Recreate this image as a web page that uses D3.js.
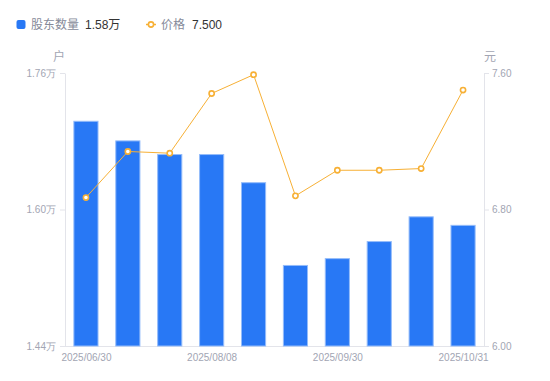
<!DOCTYPE html>
<html>
<head>
<meta charset="utf-8">
<script src="https://cdn.jsdelivr.net/npm/d3@7"></script>
<style>
  body { margin: 0; background: #fff; }
  svg { font-family: "Liberation Sans", Arial, "Noto Sans CJK SC", sans-serif; }
</style>
</head>
<body>
<svg id="chart"></svg>
<script>
// Chart data
const dates = ["2025/06/30", "2025/07/10", "2025/07/18", "2025/08/08", "2025/08/20",
  "2025/09/10", "2025/09/30", "2025/10/10", "2025/10/20", "2025/10/31"];
const holders = [17040, 16810, 16650, 16650, 16320, 15350, 15430, 15630, 15920, 15820];
const prices = [6.87, 7.14, 7.13, 7.48, 7.59, 6.88, 7.03, 7.03, 7.04, 7.50];
const xTickLabels = ["2025/06/30", "2025/08/08", "2025/09/30", "2025/10/31"];
const holderTicks = [14400, 16000, 17600];
const priceTicks = [6.0, 6.8, 7.6];

const width = 550;
const height = 381;
const margin = { top: 73, right: 66, bottom: 35, left: 65 };

const barColor = "#2878f5";
const lineColor = "#f7b035";
const axisColor = "#e3e4ea";
const labelColor = "#a2a5b3";

const svg = d3.select("#chart")
  .attr("width", width)
  .attr("height", height);

// Scales
const x = d3.scaleBand()
  .domain(dates)
  .range([margin.left, width - margin.right])
  .paddingInner(0.4)
  .paddingOuter(0.2);

const xPoint = d3.scalePoint()
  .domain(dates)
  .range([margin.left, width - margin.right])
  .padding(0.5);

const yLeft = d3.scaleLinear()
  .domain([14400, 17600])
  .range([height - margin.bottom, margin.top]);

const yRight = d3.scaleLinear()
  .domain([6.0, 7.6])
  .range([height - margin.bottom, margin.top]);

// Axes
function styleAxis(g) {
  g.select(".domain").attr("stroke", axisColor);
  g.selectAll(".tick line").attr("stroke", axisColor);
  g.selectAll(".tick text").attr("fill", labelColor).attr("font-size", 10);
}

svg.append("g")
  .attr("transform", `translate(${margin.left},0)`)
  .call(d3.axisLeft(yLeft)
    .tickValues(holderTicks)
    .tickSize(5)
    .tickSizeOuter(0)
    .tickPadding(4)
    .tickFormat(d => (d / 10000).toFixed(2) + "万"))
  .call(styleAxis);

svg.append("g")
  .attr("transform", `translate(${width - margin.right},0)`)
  .call(d3.axisRight(yRight)
    .tickValues(priceTicks)
    .tickSize(5)
    .tickSizeOuter(0)
    .tickPadding(3)
    .tickFormat(d3.format(".2f")))
  .call(styleAxis);

svg.append("g")
  .attr("transform", `translate(0,${height - margin.bottom})`)
  .call(d3.axisBottom(xPoint)
    .tickValues(xTickLabels)
    .tickSize(0)
    .tickPadding(8))
  .call(styleAxis)
  .call(g => g.select(".domain").attr("d", `M${margin.left},0.5H${width - margin.right}`));

// Unit labels
svg.append("text")
  .attr("x", 59)
  .attr("y", 61)
  .attr("text-anchor", "middle")
  .attr("fill", labelColor)
  .attr("font-size", 12)
  .text("户");

svg.append("text")
  .attr("x", 490)
  .attr("y", 61)
  .attr("text-anchor", "middle")
  .attr("fill", labelColor)
  .attr("font-size", 12)
  .text("元");

// Bars
svg.selectAll(".bar")
  .data(holders)
  .enter()
  .append("rect")
  .attr("class", "bar")
  .attr("x", (d, i) => x(dates[i]) + 0.5)
  .attr("width", x.bandwidth() - 1)
  .attr("y", d => yLeft(d) + 0.5)
  .attr("height", d => yLeft.range()[0] - yLeft(d) - 0.5)
  .attr("fill", barColor)
  .attr("stroke", "#94bcfa")
  .attr("stroke-width", 1);

// Price line
const line = d3.line()
  .x((d, i) => xPoint(dates[i]))
  .y(d => yRight(d));

svg.append("path")
  .datum(prices)
  .attr("d", line)
  .attr("fill", "none")
  .attr("stroke", lineColor)
  .attr("stroke-width", 1);

svg.selectAll(".point")
  .data(prices)
  .enter()
  .append("circle")
  .attr("class", "point")
  .attr("cx", (d, i) => xPoint(dates[i]))
  .attr("cy", d => yRight(d))
  .attr("r", 2.6)
  .attr("fill", "#fff")
  .attr("stroke", lineColor)
  .attr("stroke-width", 1.6);

// Legend
const legend = svg.append("g").attr("font-size", 12);

legend.append("rect")
  .attr("x", 16.5)
  .attr("y", 20)
  .attr("width", 9)
  .attr("height", 9)
  .attr("rx", 2)
  .attr("fill", barColor);

legend.append("text")
  .attr("x", 31)
  .attr("y", 29)
  .attr("fill", "#868a99")
  .text("股东数量");

legend.append("text")
  .attr("x", 85)
  .attr("y", 29)
  .attr("fill", "#333")
  .text((holders[holders.length - 1] / 10000).toFixed(2) + "万");

legend.append("line")
  .attr("x1", 146)
  .attr("x2", 156)
  .attr("y1", 24.5)
  .attr("y2", 24.5)
  .attr("stroke", lineColor)
  .attr("stroke-width", 1.5);

legend.append("circle")
  .attr("cx", 151)
  .attr("cy", 24.5)
  .attr("r", 2.6)
  .attr("fill", "#fff")
  .attr("stroke", lineColor)
  .attr("stroke-width", 1.6);

legend.append("text")
  .attr("x", 161)
  .attr("y", 29)
  .attr("fill", "#868a99")
  .text("价格");

legend.append("text")
  .attr("x", 192)
  .attr("y", 29)
  .attr("fill", "#333")
  .text(prices[prices.length - 1].toFixed(3));
</script>
</body>
</html>
